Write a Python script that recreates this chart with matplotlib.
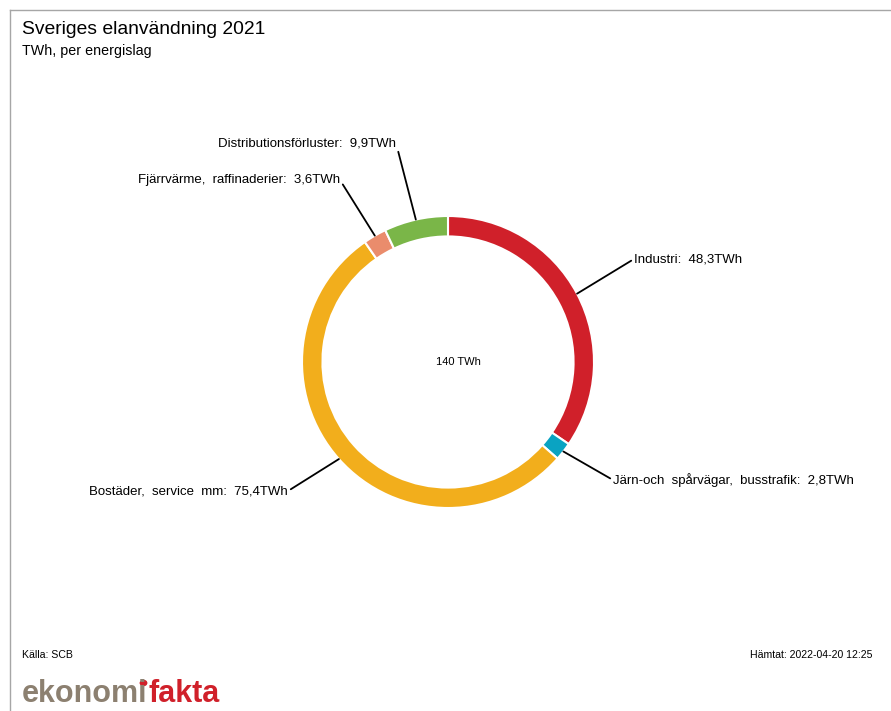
import matplotlib.pyplot as plt
import numpy as np

plt.rcParams['font.family'] = ['Liberation Sans', 'DejaVu Sans']

# Electricity use by sector, TWh
categories = ['Industri', 'Järn-och  spårvägar,  busstrafik', 'Bostäder,  service  mm',
              'Fjärrvärme,  raffinaderier', 'Distributionsförluster']
values = [48.3, 2.8, 75.4, 3.6, 9.9]
colors = ['#d0202a', '#0aa3c2', '#f2ae1c', '#ea8c6c', '#7ab648']
total_label = '140 TWh'

# label anchors in figure pixels (from top-left) and alignment
label_pos = [(634, 259, 'left'), (613, 480, 'left'), (288, 491, 'right'),
             (340, 180, 'right'), (396, 143, 'right')]

W, H = 891, 711
fig = plt.figure(figsize=(W / 100, H / 100), dpi=100)

# donut placed so that radius 1 spans 146 px around (448, 362)
cx, cy, r_px = 448, 362, 146
half = 1.25 * r_px
ax = fig.add_axes([(cx - half) / W, (H - cy - half) / H, 2 * half / W, 2 * half / H])
wedges, _ = ax.pie(values, colors=colors, startangle=90, counterclock=False,
                   wedgeprops=dict(width=0.14, edgecolor='white', linewidth=1.5))
ax.text(0.07, 0.0, total_label, ha='center', va='center', fontsize=8)

for w, cat, val, (tx, ty, ha) in zip(wedges, categories, values, label_pos):
    ang = np.deg2rad((w.theta1 + w.theta2) / 2)
    x0, y0 = np.cos(ang), np.sin(ang)
    txt = f'{cat}:  {val:.1f}'.replace('.', ',') + 'TWh'
    ax.annotate(txt, xy=(x0, y0), xytext=(tx, H - ty), textcoords='figure pixels',
                ha=ha, va='center', fontsize=9.5,
                arrowprops=dict(arrowstyle='-', color='black', lw=1.3,
                                shrinkA=0, shrinkB=0,
                                relpos=(0, 0.5) if ha == 'left' else (1, 0.5)))

# frame lines on left and top
fig.add_artist(plt.Line2D([10 / W, 10 / W], [0, 1 - 10 / H], color='#a6a6a6', lw=1))
fig.add_artist(plt.Line2D([10 / W, 1], [1 - 10 / H, 1 - 10 / H], color='#a6a6a6', lw=1))

fig.text(22 / W, 1 - 30 / H, 'Sveriges elanvändning 2021', fontsize=13.9, va='center')
fig.text(22 / W, 1 - 51 / H, 'TWh, per energislag', fontsize=10.3, va='center')
fig.text(22 / W, 1 - 655 / H, 'Källa: SCB', fontsize=7.6, va='center')
fig.text(872 / W, 1 - 655 / H, 'Hämtat: 2022-04-20 12:25', fontsize=7.6, va='center', ha='right')

# logo text: grey part, then red part placed right after it
renderer = fig.canvas.get_renderer()
logo_grey = fig.text(22 / W, 1 - 702 / H, 'ekonomi', fontsize=22, fontweight='bold',
                     color='#8c8070', va='baseline')
bb = logo_grey.get_window_extent(renderer)
fig.text(bb.x1 / W + 1 / W, 1 - 702 / H, 'fakta', fontsize=22, fontweight='bold',
         color='#d0202a', va='baseline')
# red dot over the i
fig.patches.append(plt.Circle(((bb.x1 - 4) / W, 1 - 683 / H), 3.2 / W, color='#d0202a',
                              transform=fig.transFigure, figure=fig))

fig.savefig('out.png', dpi=100)
